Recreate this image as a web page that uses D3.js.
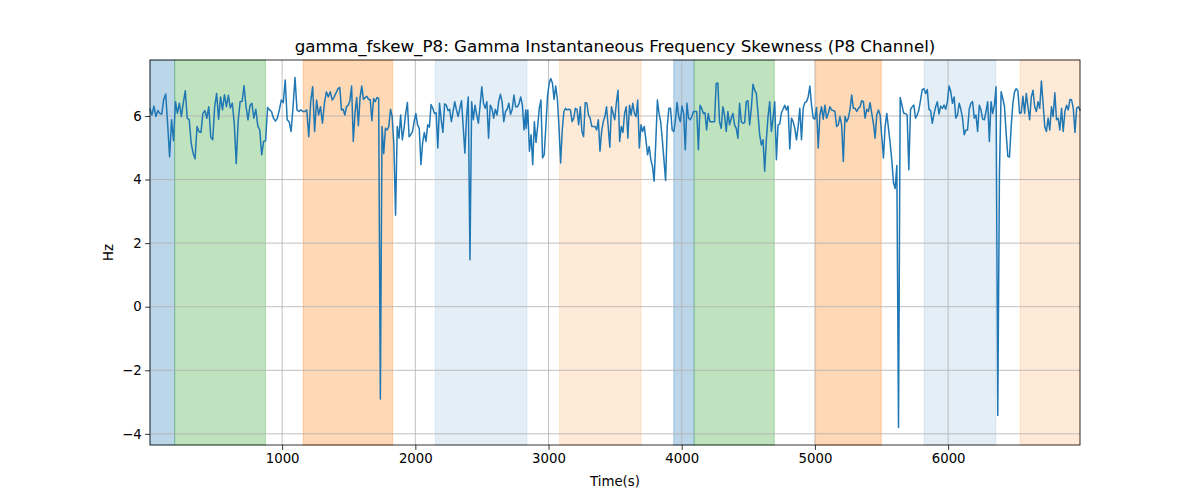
<!DOCTYPE html>
<html>
<head>
<meta charset="utf-8">
<script src="https://cdn.jsdelivr.net/npm/d3@7"></script>
<style>
  html, body { margin: 0; padding: 0; background: #fff; }
  svg text { font-family: "DejaVu Sans", sans-serif; fill: #000; }
</style>
</head>
<body>
<svg id="chart" width="1200" height="500"></svg>
<script>
// ---------------- data ----------------
const titleText = "gamma_fskew_P8: Gamma Instantaneous Frequency Skewness (P8 Channel)";
const xLabel = "Time(s)";
const yLabel = "Hz";
const xTicks = [1000, 2000, 3000, 4000, 5000, 6000];
const yTicks = [-4, -2, 0, 2, 4, 6];

// sampled values, in consecutive time segments
const seg1 = [6.21, 6.03, 6.31, 5.98, 6.17, 6.08, 6.06, 6.52, 6.69, 5.75,
  4.71, 5.88, 5.22, 6.45, 6.08, 6.40, 5.98, 6.42, 6.79, 5.93,
  5.88, 5.15, 4.83, 4.65, 5.67, 5.51, 5.48, 6.08, 6.17, 5.93,
  6.29, 5.33, 5.25, 6.29, 6.71, 5.90, 6.60, 6.19, 6.67, 6.29,
  6.65, 6.25, 6.40, 5.77, 4.50, 5.85, 6.45, 6.46, 6.95, 6.29,
  5.88, 6.32, 6.40, 5.93, 6.21, 5.69, 5.56, 4.78, 5.20, 5.22,
  6.27, 6.19, 6.14, 5.93, 5.84, 5.93, 6.19, 6.50, 6.42, 7.13,
  5.88, 5.82, 5.51, 6.29, 7.21, 6.19, 6.14, 6.19, 6.14, 6.14,
  6.19, 5.35, 6.45, 6.92, 5.51, 6.50, 6.03, 6.29, 5.77, 6.40,
  6.76, 6.60, 6.76, 6.50, 6.60];
const seg2 = [6.86, 6.90, 6.19, 6.21, 6.03, 6.29, 6.34, 6.48, 6.94, 5.20,
  6.08, 6.58, 5.69, 6.58, 6.94, 6.52, 6.58, 6.62, 6.52, 6.52,
  5.85, 6.55, 6.45, 6.58, 6.55, -2.90, 5.67, 4.81, 5.61, 5.56,
  5.67, 6.21, 5.98, 5.09, 2.88, 5.67, 5.30, 6.03, 5.25, 5.61,
  6.08, 6.42, 5.35, 5.41, 5.51, 5.82, 6.08, 5.72, 5.61, 4.47,
  5.15, 5.48, 5.20, 5.72, 5.65, 6.36, 6.24, 6.08, 6.10, 4.99,
  6.40, 5.88, 5.48, 6.38, 6.34, 6.17, 6.21, 5.82, 6.14, 6.45,
  6.19, 5.98, 6.24, 6.48, 5.67, 4.83, 5.98, 6.60, 1.48, 6.45,
  5.88, 6.34, 6.03, 5.77, 6.34, 6.92, 6.40, 6.24, 6.45, 5.30,
  6.34, 6.24, 5.93, 6.21, 6.03, 6.45, 6.68, 6.45, 5.82, 6.14,
  6.21, 6.40, 6.05, 6.21, 6.66, 6.29, 6.29, 6.38, 6.60, 6.34,
  5.56, 6.19];
const seg3 = [5.61, 6.19, 4.89, 5.41, 4.47, 5.82, 5.17, 5.67, 6.24,
  6.50, 4.68, 4.78, 5.67, 6.60, 7.02, 7.18, 7.04, 6.52, 6.94,
  6.55, 5.67, 4.52, 5.56, 6.14, 6.24, 6.19, 6.21, 6.19, 5.82,
  5.93, 6.24, 6.21, 5.72, 6.29, 5.51, 5.35, 6.42, 6.40, 6.03,
  5.93, 5.67, 5.67, 5.67, 5.56, 5.88, 4.89, 5.51, 5.82, 5.98,
  6.29, 5.67, 5.02, 6.29, 6.08, 5.88, 6.42, 6.81, 5.20, 5.67,
  5.48, 6.08, 6.29, 5.30, 6.34, 6.03, 6.40, 6.08, 5.98, 6.50,
  4.99, 5.72, 5.51, 5.67, 5.25, 4.78, 5.04, 4.62, 4.42, 3.95,
  5.15, 6.50, 6.08, 5.82, 5.25, 4.62, 3.97, 5.67, 6.24, 6.24,
  5.56, 5.51, 5.88, 6.42, 5.98, 5.82, 6.31, 6.08, 4.94, 6.40,
  5.93, 5.88, 5.98, 6.14, 6.14, 6.14, 4.94, 6.34, 6.24, 6.08,
  6.10, 5.56, 6.08, 5.82, 5.82, 5.82];
const seg4 = [5.82, 7.02, 7.04, 5.82, 5.61, 6.29, 6.03, 5.51, 6.14,
  5.72, 5.93, 6.08, 5.72, 5.61, 5.30, 6.40, 5.82, 5.77, 5.79,
  6.45, 6.48, 5.72, 6.24, 7.00, 6.81, 6.71, 6.08, 5.41, 5.09,
  5.25, 4.26, 5.25, 5.98, 6.45, 5.51, 5.93, 6.45, 4.62, 5.72,
  5.75, 6.10, 6.21, 6.34, 6.19, 6.31, 4.96, 5.93, 5.82, 5.61,
  5.25, 5.67, 6.24, 5.25, 6.24, 6.42, 6.45, 6.60, 6.94, 6.34,
  5.93, 5.90, 6.27, 4.99, 6.03, 6.29, 5.90, 6.34, 5.93, 6.08,
  6.29, 6.19, 6.17, 6.14, 5.67, 5.72, 5.98, 5.72, 4.57, 5.98,
  5.82, 5.93, 6.21, 6.66, 6.24, 6.24, 6.14, 6.24, 6.29, 6.48,
  6.45, 5.93, 6.21, 6.14, 6.42, 6.08, 5.77, 5.30, 6.03, 6.19,
  6.03, 5.35, 4.68, 5.67, 6.08, 5.61,
  5.15, 4.60, 3.90, 3.72, 4.44, -3.80, 6.58];
const seg5 = [6.08, 6.08, 6.03, 4.31, 6.19, 6.29, 6.34, 5.93, 6.03, 6.19,
  6.50, 6.83, 6.86, 6.71, 6.83, 6.21, 6.17, 5.77, 6.06, 6.29,
  6.45, 6.06, 6.31, 6.24, 6.34, 6.21, 6.45, 6.94, 6.76, 6.40,
  6.60, 5.93, 6.03, 6.40, 6.21, 5.93, 5.41, 5.56, 5.56, 6.21,
  6.40, 6.45, 5.93, 6.03, 5.51, 6.34, 6.19, 5.90, 5.88, 6.14,
  6.45, 5.20, 6.45, 6.08, 6.34, 6.92, -3.42, 4.20, 6.76, 6.55,
  6.29, 5.46, 4.73, 4.71, 5.67, 6.40, 6.76, 6.86, 6.79, 6.08,
  6.10, 6.62, 6.08, 6.71, 6.29, 5.88, 6.60, 6.81, 6.29, 6.14,
  6.45, 6.24, 7.10, 6.40, 5.67, 5.51, 5.93, 5.56, 6.29, 5.98,
  6.73, 5.88, 5.93, 5.56, 6.24, 5.51, 6.14, 6.34, 6.19, 6.52,
  6.50, 6.24, 5.48, 6.24, 6.29, 6.19];
const segmentValues = [seg1, seg2, seg3, seg4, seg5];
const segmentStart = [8, 1420, 2832, 4246, 5667];   // seconds
const segmentEnd = [1391, 2829, 4236, 5640, 6990];  // seconds

// shaded intervals (seconds) and their kind
const bandStart = [8, 193, 1158, 2150, 3083, 3940, 4093, 5005, 5820, 6541];
const bandEnd = [193, 875, 1830, 2838, 3695, 4093, 4695, 5498, 6358, 6990];
const bandKind = ["blue", "green", "orange", "paleblue", "paleorange",
                  "blue", "green", "orange", "paleblue", "paleorange"];

// ---------------- styles ----------------
const bandStyle = {
  blue: { color: "#1f77b4", opacity: 0.3 },
  green: { color: "#2ca02c", opacity: 0.3 },
  orange: { color: "#ff7f0e", opacity: 0.3 },
  paleblue: { color: "#1f77b4", opacity: 0.12 },
  paleorange: { color: "#ff7f0e", opacity: 0.16 }
};

const margin = { left: 150, right: 120, top: 60, bottom: 55 };
const W = 1200, H = 500;
const iw = W - margin.left - margin.right;
const ih = H - margin.top - margin.bottom;

const points = segmentValues.flatMap((vals, k) => {
  const t0 = segmentStart[k], t1 = segmentEnd[k];
  const step = (t1 - t0) / (vals.length - 1);
  return vals.map((v, i) => ({ t: t0 + i * step, v }));
});

const tExt = d3.extent(points, d => d.t);
const vExt = d3.extent(points, d => d.v);
const pad = (vExt[1] - vExt[0]) * 0.05;

const x = d3.scaleLinear().domain(tExt).range([0, iw]);
const y = d3.scaleLinear().domain([vExt[0] - pad, vExt[1] + pad]).range([ih, 0]);

const svg = d3.select("#chart");
const g = svg.append("g").attr("transform", `translate(${margin.left},${margin.top})`);

// bands
const bands = bandStart.map((s, i) => ({ s, e: bandEnd[i], kind: bandKind[i] }));
g.append("g").selectAll("rect").data(bands).join("rect")
  .attr("x", d => x(d.s))
  .attr("y", 0)
  .attr("width", d => x(d.e) - x(d.s))
  .attr("height", ih)
  .attr("fill", d => bandStyle[d.kind].color)
  .attr("fill-opacity", d => bandStyle[d.kind].opacity)
  .attr("stroke", d => bandStyle[d.kind].color)
  .attr("stroke-opacity", d => bandStyle[d.kind].opacity)
  .attr("stroke-width", 1);

// grid
const grid = g.append("g");
grid.selectAll("line.gx").data(xTicks).join("line")
  .attr("x1", d => x(d)).attr("x2", d => x(d))
  .attr("y1", 0).attr("y2", ih)
  .attr("stroke", "#b0b0b0").attr("stroke-width", 0.8);
grid.selectAll("line.gy").data(yTicks).join("line")
  .attr("x1", 0).attr("x2", iw)
  .attr("y1", d => y(d)).attr("y2", d => y(d))
  .attr("stroke", "#b0b0b0").attr("stroke-width", 0.8);

// line
g.append("path")
  .datum(points)
  .attr("fill", "none")
  .attr("stroke", "#1f77b4")
  .attr("stroke-width", 1.5)
  .attr("stroke-linejoin", "round")
  .attr("stroke-linecap", "square")
  .attr("d", d3.line().x(d => x(d.t)).y(d => y(d.v)));

// axes
const fmtY = d => (d < 0 ? "\u2212" + Math.abs(d) : String(d));
const xAxis = g.append("g").attr("transform", `translate(0,${ih})`)
  .call(d3.axisBottom(x).tickValues(xTicks).tickFormat(d3.format("d")).tickSize(4.9).tickPadding(3.5));
const yAxis = g.append("g")
  .call(d3.axisLeft(y).tickValues(yTicks).tickFormat(fmtY).tickSize(4.9).tickPadding(3.5));
[xAxis, yAxis].forEach(a => {
  a.select(".domain").remove();
  a.selectAll(".tick line").attr("stroke", "#000").attr("stroke-width", 0.8);
  a.selectAll(".tick text").attr("font-size", "13.3px").attr("font-family", "DejaVu Sans").attr("fill", "#000");
});

// spines
g.append("rect").attr("x", 0).attr("y", 0).attr("width", iw).attr("height", ih)
  .attr("fill", "none").attr("stroke", "#000").attr("stroke-width", 0.8);

// labels
svg.append("text").attr("x", margin.left + iw / 2).attr("y", 52)
  .attr("text-anchor", "middle").attr("font-size", "16.7px").text(titleText);
svg.append("text").attr("x", margin.left + iw / 2).attr("y", 486)
  .attr("text-anchor", "middle").attr("font-size", "13.3px").text(xLabel);
svg.append("text").attr("transform", `translate(113,${margin.top + ih / 2}) rotate(-90)`)
  .attr("text-anchor", "middle").attr("font-size", "13.3px").text(yLabel);
</script>
</body>
</html>
